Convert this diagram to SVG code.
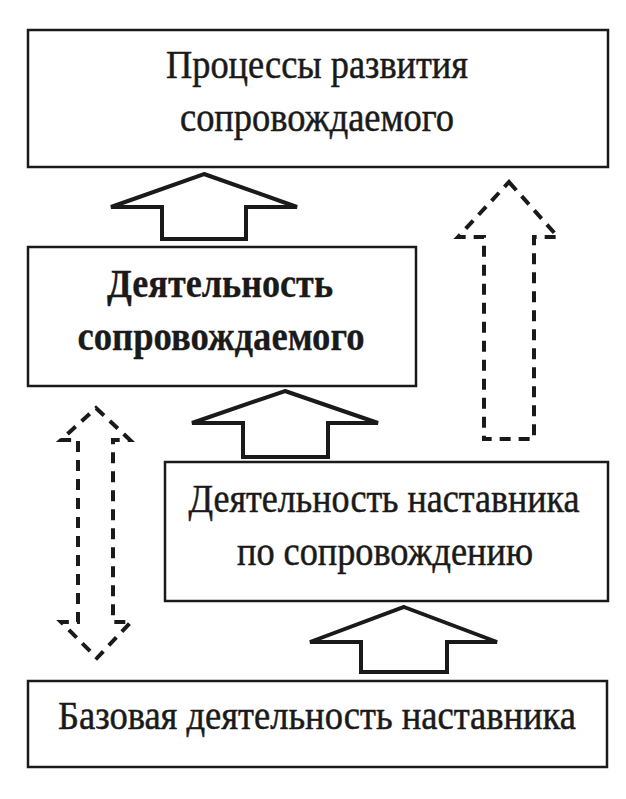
<svg xmlns="http://www.w3.org/2000/svg" width="626" height="799" viewBox="0 0 626 799">
<style>
.box{fill:#fff;stroke:#1a1a1a;stroke-width:2.5}
.t{font-family:"Liberation Serif","Times New Roman","DejaVu Serif",serif;font-size:40px;fill:#1a1a1a;stroke:#1a1a1a;stroke-width:0.5;text-anchor:middle}
.b{font-weight:bold;stroke-width:0.3}
.solid{fill:#fff;stroke:#1a1a1a;stroke-width:4;stroke-linejoin:miter}
.dash{fill:none;stroke:#1a1a1a;stroke-width:4;stroke-dasharray:11 8}
</style>
<rect width="626" height="799" fill="#fff"/>
<g id="node-processes">
<rect class="box" x="28" y="30" width="580" height="137"/>
<text class="t" x="317" y="78" textLength="302" lengthAdjust="spacingAndGlyphs">Процессы развития</text>
<text class="t" x="317" y="131" textLength="274" lengthAdjust="spacingAndGlyphs">сопровождаемого</text>
</g>
<g id="node-activity-mentee">
<rect class="box" x="28" y="247" width="388" height="139"/>
<text class="t b" x="220" y="297" textLength="226" lengthAdjust="spacingAndGlyphs">Деятельность</text>
<text class="t b" x="221" y="350" textLength="287" lengthAdjust="spacingAndGlyphs">сопровождаемого</text>
</g>
<g id="node-mentor-support">
<rect class="box" x="165" y="462" width="443" height="139"/>
<text class="t" x="384" y="512" textLength="391" lengthAdjust="spacingAndGlyphs">Деятельность наставника</text>
<text class="t" x="385" y="565" textLength="296" lengthAdjust="spacingAndGlyphs">по сопровождению</text>
</g>
<g id="node-base">
<rect class="box" x="28" y="681" width="579" height="86"/>
<text class="t" x="317" y="729" textLength="518" lengthAdjust="spacingAndGlyphs">Базовая деятельность наставника</text>
</g>
<g id="connectors">
<path class="solid" d="M204,174 L297,207 L246,207 L246,239 L162,239 L162,207 L111,207 Z"/>
<path class="solid" d="M285,391 L378,423 L328,423 L328,457 L243,457 L243,423 L192,423 Z"/>
<path class="solid" d="M404,607 L497,642 L447,642 L447,672 L361,672 L361,642 L310,642 Z"/>
<path class="dash" d="M509,182 L558,237 L534,237 L534,439 L484,439 L484,237 L458,237 Z"/>
<path class="dash" d="M96,408 L130,440 L113,440 L113,622 L131,622 L97,658 L61,622 L78,622 L78,440 L61,440 Z"/>
</g>
</svg>
